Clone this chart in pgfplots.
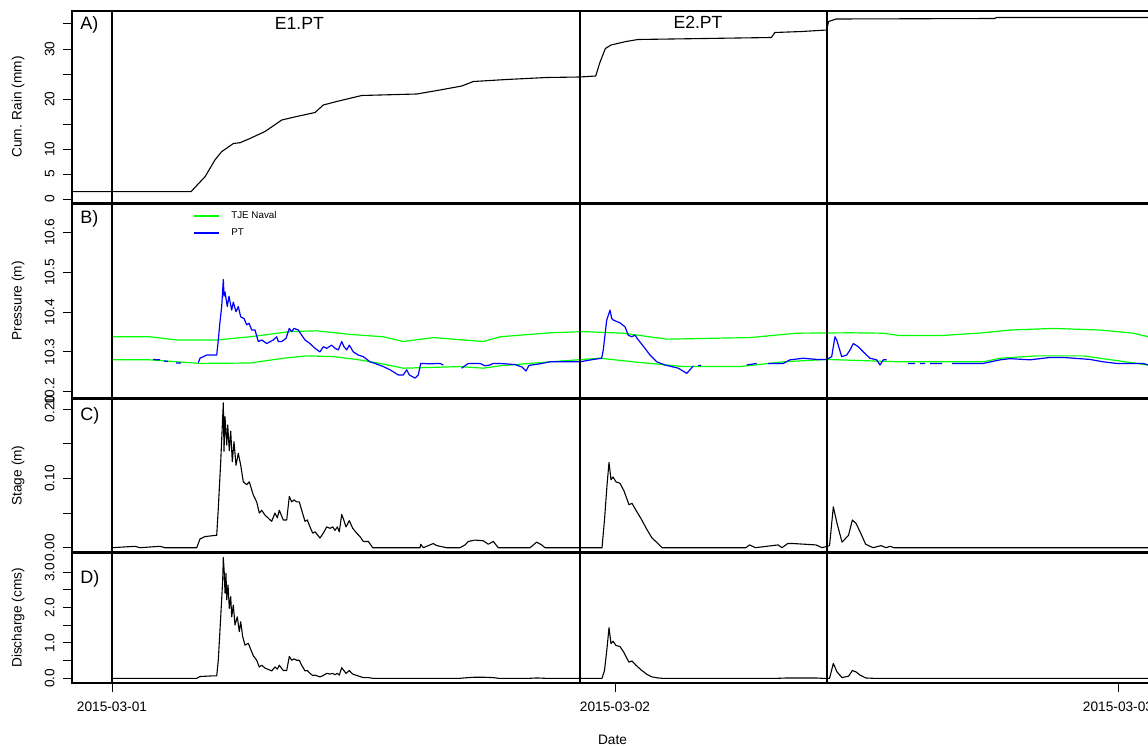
\documentclass[border=0pt]{standalone}
\usepackage{pgfplots}
\pgfplotsset{compat=1.18}
\usepackage{fontspec}
\setmainfont{Liberation Sans}

% event markers (hours after 2015-03-01 00:00)
\newcommand\eventlines{%
  \draw[line width=0.85pt] ({axis cs:0,0}|-{rel axis cs:0,0}) -- ({axis cs:0,0}|-{rel axis cs:0,1});
  \draw[line width=0.85pt] ({axis cs:22.33,0}|-{rel axis cs:0,0}) -- ({axis cs:22.33,0}|-{rel axis cs:0,1});
  \draw[line width=0.85pt] ({axis cs:34.12,0}|-{rel axis cs:0,0}) -- ({axis cs:34.12,0}|-{rel axis cs:0,1});
}

\tikzset{letter/.style={anchor=west, inner sep=0pt, font=\fontsize{9}{10}\selectfont}}

\pgfplotsset{
  panel/.style={
    scale only axis, width=540.5pt,
    xmin=-1.909, xmax=49.67,
    axis line style={line width=0.6pt},
    tick align=outside, tick pos=left,
    major tick length=4.5pt,
    tick style={black, line width=0.5pt},
    xtick=\empty,
    tick label style={font=\fontsize{6.85}{8}\selectfont},
    label style={font=\fontsize{6.85}{8}\selectfont},
    yticklabel style={rotate=90, anchor=south, inner sep=0pt},
    yticklabel shift=4pt,
    ylabel style={at={(rel axis cs:-0.04995,0.5)}, anchor=center},
  },
  every axis plot/.append style={line width=0.55pt, line join=round},
}

\begin{document}
\begin{tikzpicture}

% A) cumulative rain
\begin{axis}[panel, at={(36pt,271.5pt)}, anchor=south west, height=96pt,
  ymin=-0.8, ymax=37.6, ytick={0,5,...,35}, yticklabels={0,5,10,,20,,30,},
  ylabel={Cum. Rain (mm)}]
\addplot[black] coordinates {
(-1.91,1.47) (3.77,1.47) (4.44,4.47) (4.91,7.8) (5.23,9.46) (5.79,11.1) (6.11,11.26)
(6.58,12.1) (7.30,13.5) (8.10,15.8) (8.81,16.5) (9.69,17.3) (10.08,18.8) (10.72,19.5)
(11.91,20.7) (14.54,21.0) (15.65,21.8) (16.69,22.6) (17.24,23.5) (18.83,23.9) (20.74,24.3)
(22.33,24.4) (23.08,24.6) (23.27,27.2) (23.54,30.1) (23.81,30.8) (24.53,31.5) (25.09,31.9)
(28.28,32.1) (31.46,32.3) (31.63,33.3) (32.92,33.5) (34.10,33.8) (34.19,35.5) (34.55,36.0)
(42.11,36.1) (42.21,36.3) (49.77,36.3)};
\eventlines
\node[letter] at (rel axis cs:0.0074,0.927) {A)};
\node[font=\fontsize{8.8}{10}\selectfont] at (rel axis cs:0.2103,0.934) {E1.PT};
\node[font=\fontsize{8.8}{10}\selectfont] at (rel axis cs:0.5791,0.9385) {E2.PT};
\end{axis}

% B) pressure
\begin{axis}[panel, at={(36pt,174pt)}, anchor=south west, height=97pt,
  ymin=10.184, ymax=10.672, ytick={10.2,10.3,10.4,10.5,10.6},
  yticklabels={10.2,10.3,10.4,10.5,10.6},
  ylabel={Pressure (m)}, unbounded coords=jump,
  legend style={draw=none, fill=none, at={(rel axis cs:0.1119,0.966)}, anchor=north west,
    inner sep=0pt, row sep=3.8pt, column sep=5.5pt,
    font=\fontsize{4.9}{5.5}\selectfont,
    nodes={inner sep=0pt, text height=3.6pt, text depth=1.1pt}},
  legend cell align=left,
  legend image code/.code={\draw[#1, line width=1pt] (0pt,0pt) -- (12.5pt,0pt);}]
\addplot[green, line width=0.6pt] coordinates {
(0,10.338) (1.813,10.338) (3.087,10.330) (4.996,10.330) (6.585,10.338) (8.493,10.351)
(9.767,10.353) (11.356,10.344) (12.945,10.338) (13.899,10.326) (15.330,10.336)
(17.716,10.326) (18.513,10.338) (20.899,10.348) (22.488,10.351) (24.395,10.347)
(26.467,10.332) (30.441,10.336) (32.669,10.347) (35.213,10.348) (36.801,10.347)
(37.599,10.341) (39.507,10.341) (41.573,10.348) (42.847,10.355) (44.913,10.359)
(47.141,10.355) (48.730,10.347) (49.432,10.338) (49.766,10.336)};
\addlegendentry{TJE Naval}
\addplot[green, line width=0.6pt, forget plot] coordinates {
(0,10.280) (1.813,10.280) (4.199,10.271) (6.585,10.272) (8.173,10.284) (9.290,10.290)
(10.559,10.288) (11.675,10.281) (12.787,10.271) (13.899,10.259) (16.604,10.263)
(17.716,10.259) (18.513,10.265) (20.899,10.275) (23.284,10.284) (24.873,10.275)
(27.259,10.263) (29.964,10.263) (32.030,10.275) (34.101,10.281) (37.599,10.275)
(41.573,10.275) (42.370,10.284) (44.121,10.290) (46.345,10.290) (47.141,10.284)
(49.432,10.267) (49.766,10.266)};
\addplot[blue, line width=0.6pt] coordinates {
(1.956,10.281) (2.290,10.280) (2.4,nan) (2.481,10.277) (2.672,10.276) (2.8,nan)
(3.054,10.272) (3.292,10.272) (3.5,nan)
(4.118,10.273) (4.199,10.284) (4.518,10.292) (4.996,10.292) (5.072,10.330) (5.153,10.376)
(5.234,10.414) (5.311,10.482) (5.344,10.440) (5.392,10.451) (5.501,10.414) (5.582,10.440)
(5.711,10.405) (5.788,10.425) (5.917,10.401) (6.026,10.414) (6.141,10.388) (6.298,10.384)
(6.427,10.368) (6.537,10.372) (6.666,10.355) (6.823,10.355) (6.981,10.326) (7.143,10.330)
(7.381,10.321) (7.696,10.330) (7.858,10.338) (7.935,10.326) (8.097,10.326) (8.302,10.334)
(8.460,10.359) (8.574,10.351) (8.684,10.359) (8.889,10.355) (9.051,10.342) (9.209,10.330)
(9.447,10.321) (9.686,10.309) (9.924,10.300) (10.082,10.313) (10.244,10.309) (10.483,10.317)
(10.640,10.309) (10.798,10.305) (10.960,10.326) (11.069,10.313) (11.198,10.305) (11.322,10.317)
(11.513,10.300) (11.752,10.292) (11.990,10.288) (12.310,10.275) (12.549,10.271) (12.945,10.263)
(13.264,10.255) (13.660,10.242) (13.899,10.242) (14.061,10.255) (14.185,10.242) (14.457,10.234)
(14.615,10.242) (14.729,10.271) (15.173,10.270) (15.650,10.271) (15.807,10.267) (16.2,nan)
(16.685,10.259) (17.000,10.271) (17.559,10.271) (17.797,10.265) (18.036,10.267) (18.193,10.271)
(18.432,10.271) (18.752,10.270) (19.229,10.268) (19.563,10.262) (19.754,10.252) (19.897,10.266)
(20.422,10.270) (20.899,10.275) (21.853,10.275) (22.330,10.275) (22.965,10.281) (23.365,10.284)
(23.441,10.305) (23.604,10.380) (23.761,10.405) (23.842,10.384) (23.919,10.380) (24.238,10.373)
(24.477,10.363) (24.634,10.342) (24.797,10.338) (24.954,10.342) (25.112,10.330) (25.431,10.309)
(25.670,10.292) (25.990,10.275) (26.386,10.267) (26.705,10.263) (27.020,10.259) (27.421,10.246)
(27.579,10.255) (27.736,10.265) (27.85,nan) (27.960,10.266) (28.104,10.266) (28.2,nan)
(30.284,10.267) (30.761,10.271) (31.0,nan) (31.300,10.271) (32.030,10.271) (32.350,10.280)
(32.984,10.284) (33.624,10.281) (34.101,10.281) (34.339,10.288) (34.497,10.338) (34.578,10.330)
(34.817,10.288) (35.055,10.292) (35.213,10.305) (35.370,10.321) (35.609,10.313) (35.848,10.300)
(36.166,10.284) (36.486,10.280) (36.644,10.267) (36.801,10.280) (36.963,10.280) (37.3,nan)
(37.980,10.271) (38.314,10.271) (38.4,nan) (38.553,10.271) (38.792,10.271) (38.9,nan)
(39.030,10.271) (39.603,10.271) (39.8,nan) (40.080,10.271) (41.573,10.271) (42.370,10.280)
(42.847,10.283) (43.801,10.280) (44.756,10.286) (45.390,10.286) (46.664,10.281) (47.299,10.275)
(47.938,10.271) (49.207,10.271) (49.432,10.267) (49.766,10.266)};
\addlegendentry{PT}
\eventlines
\node[letter] at (rel axis cs:0.0074,0.926) {B)};
\end{axis}

% C) stage
\begin{axis}[panel, at={(36pt,97pt)}, anchor=south west, height=76.5pt,
  ymin=-0.0062, ymax=0.2145, ytick={0,0.05,0.1,0.15,0.2},
  yticklabels={0.00,,0.10,,0.20}, ylabel={Stage (m)}]
\addplot[black] coordinates {
(0,0) (1.097,0.002) (1.336,0) (2.290,0.002) (2.529,0) (4.041,0) (4.199,0.0126) (4.437,0.016)
(4.996,0.018) (5.072,0.057) (5.187,0.124) (5.311,0.209) (5.344,0.139) (5.392,0.189) (5.473,0.148)
(5.520,0.177) (5.597,0.140) (5.664,0.168) (5.740,0.124) (5.821,0.153) (5.917,0.119) (6.026,0.136)
(6.141,0.119) (6.265,0.095) (6.427,0.091) (6.551,0.095) (6.742,0.076) (6.904,0.066) (7.028,0.050)
(7.143,0.054) (7.300,0.047) (7.620,0.038) (7.777,0.050) (7.887,0.043) (7.982,0.054) (8.173,0.040)
(8.335,0.040) (8.460,0.074) (8.574,0.066) (8.684,0.069) (8.813,0.066) (8.937,0.066) (9.051,0.054)
(9.209,0.038) (9.318,0.040) (9.447,0.030) (9.576,0.021) (9.686,0.023) (9.924,0.014) (10.082,0.021)
(10.244,0.030) (10.402,0.028) (10.530,0.030) (10.640,0.025) (10.750,0.030) (10.845,0.023)
(10.960,0.048) (11.036,0.042) (11.165,0.030) (11.322,0.039) (11.485,0.028) (11.675,0.021)
(11.833,0.016) (11.990,0.009) (12.229,0.009) (12.439,0) (14.696,0) (14.729,0.005) (14.853,0)
(15.330,0.006) (15.493,0.003) (15.970,0) (16.604,0) (16.843,0.004) (17.000,0.009) (17.320,0.011)
(17.716,0.010) (17.955,0.005) (18.193,0.009) (18.432,0) (19.944,0) (20.264,0.008) (20.502,0.004)
(20.660,0) (23.380,0) (23.499,0.040) (23.618,0.090) (23.714,0.123) (23.809,0.098) (23.904,0.102)
(24.048,0.095) (24.236,0.093) (24.427,0.082) (24.572,0.070) (24.667,0.062) (24.811,0.064)
(25.001,0.054) (25.240,0.042) (25.527,0.026) (25.765,0.014) (26.052,0.006) (26.243,0) (30.241,0)
(30.423,0.004) (30.695,0) (31.780,0.004) (31.970,0) (32.237,0.006) (32.509,0.006) (33.591,0.004)
(33.878,0) (34.236,0.003) (34.417,0.059) (34.594,0.035) (34.833,0.008) (35.143,0.018) (35.324,0.040)
(35.501,0.035) (35.692,0.023) (35.959,0.005) (36.312,0) (36.694,0.003) (36.932,0) (37.123,0.002)
(37.312,0) (49.766,0)};
\eventlines
\node[letter] at (rel axis cs:0.0074,0.889) {C)};
\end{axis}

% D) discharge
\begin{axis}[panel, at={(36pt,31.5pt)}, anchor=south west, height=65pt,
  ymin=-0.133, ymax=3.547, ytick={0,0.5,...,3}, yticklabels={0.0,,1.0,,2.0,,3.0},
  xtick={0,24,48}, xticklabels={2015-03-01,2015-03-02,2015-03-03},
  xticklabel style={anchor=north, inner sep=0pt}, xticklabel shift=5pt,
  xlabel={Date}, xlabel style={at={(rel axis cs:0.5,-0.4385)}, anchor=center},
  ylabel={Discharge (cms)}]
\addplot[black] coordinates {
(0,0) (4.041,0) (4.199,0.05) (4.833,0.07) (4.996,0.07) (5.072,0.52) (5.187,1.74) (5.282,2.78)
(5.311,3.42) (5.358,2.97) (5.392,2.41) (5.439,2.97) (5.473,2.22) (5.535,2.64) (5.597,1.98)
(5.664,2.31) (5.711,1.74) (5.788,2.07) (5.869,1.51) (5.978,1.74) (6.074,1.32) (6.141,1.60)
(6.236,1.18) (6.345,0.94) (6.503,0.99) (6.742,0.64) (6.904,0.51) (7.028,0.32) (7.143,0.37)
(7.300,0.29) (7.620,0.21) (7.777,0.32) (7.887,0.26) (7.982,0.37) (8.173,0.22) (8.335,0.22)
(8.460,0.62) (8.574,0.51) (8.684,0.55) (8.813,0.51) (8.937,0.51) (9.051,0.37) (9.209,0.21)
(9.318,0.22) (9.447,0.14) (9.576,0.08) (9.686,0.09) (9.924,0.04) (10.082,0.08) (10.244,0.14)
(10.402,0.12) (10.530,0.14) (10.640,0.10) (10.750,0.14) (10.845,0.09) (10.960,0.30) (11.036,0.24)
(11.165,0.14) (11.322,0.22) (11.485,0.12) (11.675,0.08) (11.833,0.05) (11.990,0.02) (12.229,0.02)
(12.439,0) (16.604,0) (17.000,0.02) (17.320,0.03) (17.716,0.03) (18.193,0.02) (18.432,0)
(19.944,0) (20.264,0.01) (20.660,0) (23.380,0) (23.499,0.22) (23.618,0.85) (23.714,1.43)
(23.809,0.98) (23.904,1.05) (24.048,0.93) (24.236,0.90) (24.427,0.73) (24.572,0.56) (24.667,0.46)
(24.811,0.49) (25.001,0.37) (25.240,0.24) (25.527,0.11) (25.765,0.04) (26.052,0.01) (26.243,0)
(31.780,0) (32.237,0.01) (32.509,0.01) (33.591,0.01) (33.878,0) (34.236,0) (34.417,0.42)
(34.594,0.18) (34.833,0.02) (35.143,0.06) (35.324,0.22) (35.501,0.18) (35.692,0.09) (35.959,0.01)
(36.312,0) (49.766,0)};
\eventlines
\node[letter] at (rel axis cs:0.0074,0.8) {D)};
\end{axis}

\pgfresetboundingbox
\useasboundingbox (0,0) rectangle (574pt,373pt);
\end{tikzpicture}
\end{document}
